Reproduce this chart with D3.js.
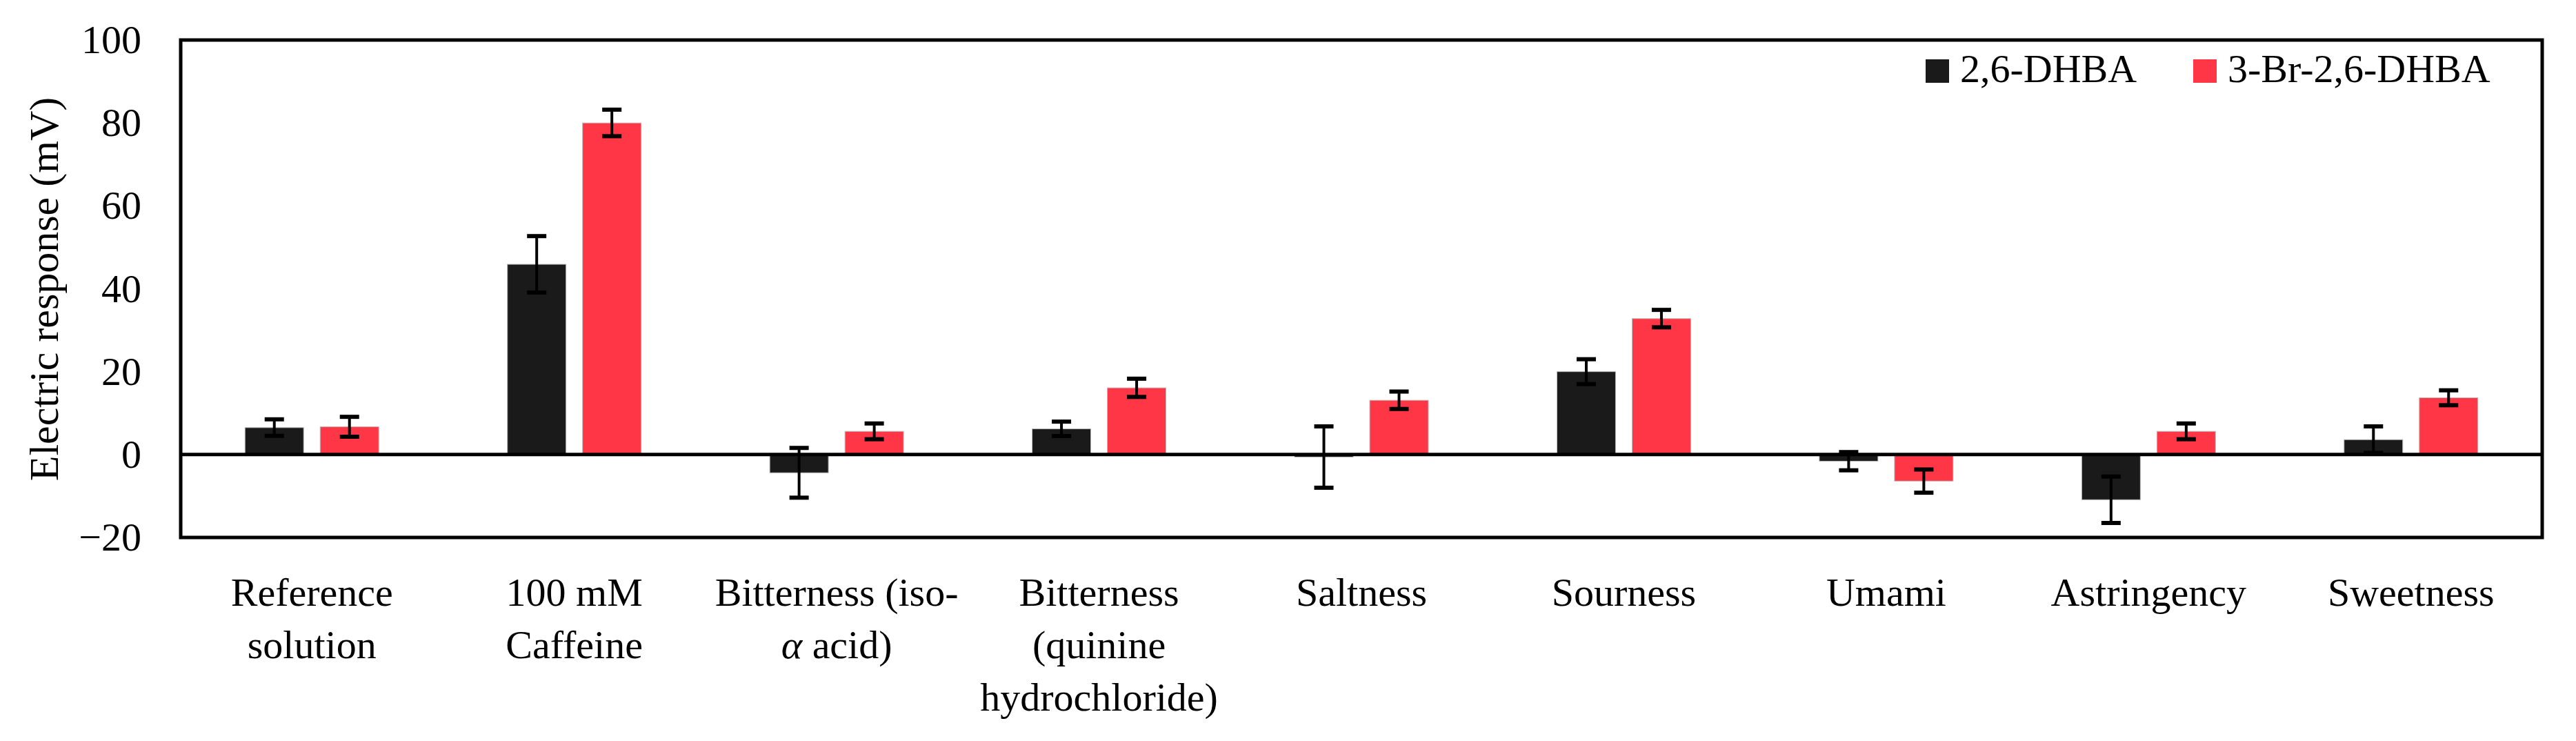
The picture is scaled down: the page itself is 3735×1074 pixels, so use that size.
<!DOCTYPE html>
<html>
<head>
<meta charset="utf-8">
<script src="https://cdn.jsdelivr.net/npm/d3@7"></script>
<style>
  html, body { margin: 0; padding: 0; background: #fff; }
  text { font-family: "Liberation Serif", "Times New Roman", serif; fill: #000; }
</style>
</head>
<body>
<svg id="chart" width="3735" height="1074"></svg>
<script>
// ---- data ----
const categories = ["Reference solution", "100 mM Caffeine", "Bitterness (iso-α acid)",
  "Bitterness (quinine hydrochloride)", "Saltness", "Sourness", "Umami", "Astringency", "Sweetness"];
const categoryLines = [["Reference", "solution"], ["100 mM", "Caffeine"], ["Bitterness (iso-", "α acid)"],
  ["Bitterness", "(quinine", "hydrochloride)"], ["Saltness"], ["Sourness"], ["Umami"], ["Astringency"], ["Sweetness"]];
const seriesNames = ["2,6-DHBA", "3-Br-2,6-DHBA"];
const dhba = [6.5, 45.9, -4.4, 6.2, -0.6, 20.0, -1.6, -10.9, 3.6];
const dhbaErr = [2.0, 6.8, 6.0, 1.75, 7.4, 3.0, 2.2, 5.6, 3.2];
const brdhba = [6.7, 80.0, 5.6, 16.1, 13.1, 32.8, -6.4, 5.6, 13.7];
const brdhbaErr = [2.4, 3.2, 1.9, 2.2, 2.1, 2.1, 2.8, 1.9, 1.8];
const yTicks = [-20, 0, 20, 40, 60, 80, 100];
const colors = ["#1a1a1b", "#ff3646"];

// ---- layout ----
const svg = d3.select("#chart");
const L = 262, R = 3686, T = 58, B = 779;
const FS = 58;

const x = d3.scaleBand().domain(categories).range([L, R]).paddingInner(0).paddingOuter(0);
const bw = x.bandwidth();
const pairW = 194;
const x1 = d3.scaleBand().domain(seriesNames).range([(bw - pairW) / 2, (bw + pairW) / 2]).paddingInner(0.22);
const y = d3.scaleLinear().domain([-20, 100]).range([B, T]);

const values = [dhba, brdhba];
const errs = [dhbaErr, brdhbaErr];
const rows = [];
categories.forEach((c, i) => {
  seriesNames.forEach((s, k) => rows.push({ c, s, k, v: values[k][i], e: errs[k][i] }));
});

// bars
svg.append("g").selectAll("rect").data(rows).join("rect")
  .attr("x", d => x(d.c) + x1(d.s))
  .attr("width", x1.bandwidth())
  .attr("y", d => y(Math.max(0, d.v)))
  .attr("height", d => Math.abs(y(d.v) - y(0)))
  .attr("fill", d => colors[d.k])
  .attr("stroke", "#bdbdbd").attr("stroke-width", 1);

// zero line
svg.append("line").attr("x1", L).attr("x2", R).attr("y1", y(0)).attr("y2", y(0))
  .attr("stroke", "#000").attr("stroke-width", 5);

// error bars
const eg = svg.append("g").attr("stroke", "#000");
rows.forEach(d => {
  const cx = x(d.c) + x1(d.s) + x1.bandwidth() / 2;
  eg.append("line").attr("x1", cx).attr("x2", cx).attr("y1", y(d.v + d.e)).attr("y2", y(d.v - d.e)).attr("stroke-width", 4);
  [d.v + d.e, d.v - d.e].forEach(vv => {
    eg.append("line").attr("x1", cx - 14).attr("x2", cx + 14).attr("y1", y(vv)).attr("y2", y(vv)).attr("stroke-width", 6);
  });
});

// frame
svg.append("rect").attr("x", L).attr("y", T).attr("width", R - L).attr("height", B - T)
  .attr("fill", "none").attr("stroke", "#000").attr("stroke-width", 5);

// y axis
const yAxis = svg.append("g").attr("transform", `translate(${L},0)`)
  .call(d3.axisLeft(y).tickValues(yTicks).tickSize(0).tickPadding(57).tickFormat(d3.format("d")));
yAxis.select(".domain").remove();
yAxis.selectAll("text").attr("font-size", FS).attr("font-family", "Liberation Serif").attr("fill", "#000");

// y title
svg.append("text").attr("transform", `translate(84,419) rotate(-90)`)
  .attr("text-anchor", "middle").attr("font-size", 60).text("Electric response (mV)");

// x labels
const xl = svg.append("g");
categories.forEach((c, i) => {
  const t = xl.append("text").attr("x", x(c) + bw / 2).attr("y", 878)
    .attr("text-anchor", "middle").attr("font-size", FS);
  categoryLines[i].forEach((line, j) => {
    const tsp = t.append("tspan").attr("x", x(c) + bw / 2).attr("y", 878 + j * 76);
    const parts = line.split("α");
    parts.forEach((p, pi) => {
      if (pi > 0) tsp.append("tspan").attr("font-style", "italic").text("α");
      if (p.length) tsp.append("tspan").text(p);
    });
  });
});

// legend
const legX = [2792, 3180];
seriesNames.forEach((s, k) => {
  svg.append("rect").attr("x", legX[k]).attr("y", 86).attr("width", 34).attr("height", 34).attr("fill", colors[k]);
  svg.append("text").attr("x", legX[k] + 50).attr("y", 119).attr("font-size", FS).text(s);
});
</script>
</body>
</html>
